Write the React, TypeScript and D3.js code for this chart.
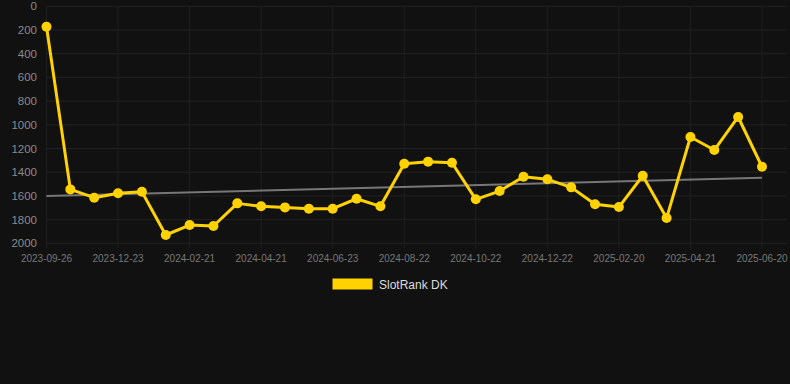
import React from "react";
import * as d3 from "d3";

const categories = [
  "2023-09-26", "2023-10-26", "2023-11-24", "2023-12-23", "2024-01-22", "2024-02-01",
  "2024-02-21", "2024-03-08", "2024-03-28", "2024-04-21", "2024-05-10", "2024-05-31",
  "2024-06-23", "2024-07-12", "2024-08-01", "2024-08-22", "2024-09-10", "2024-10-01",
  "2024-10-22", "2024-11-10", "2024-12-01", "2024-12-22", "2025-01-10", "2025-01-30",
  "2025-02-20", "2025-03-10", "2025-03-31", "2025-04-21", "2025-05-10", "2025-05-30",
  "2025-06-20",
];
const values = [
  172, 1545, 1615, 1578, 1565, 1930, 1846, 1854, 1663, 1688, 1697, 1708, 1708, 1624,
  1688, 1328, 1311, 1320, 1629, 1559, 1438, 1460, 1528, 1671, 1694, 1430, 1787, 1103,
  1213, 934, 1354,
];
const trendValues = [1601, 1447];
const yTicks = [0, 200, 400, 600, 800, 1000, 1200, 1400, 1600, 1800, 2000];
const seriesName = "SlotRank DK";

const W = 790;
const H = 384;
const YELLOW = "#ffd200";

export default function App() {
  const x = d3.scalePoint<string>().domain(categories).range([46.5, 762]);
  const y = d3.scaleLinear().domain([0, 2000]).range([6.3, 243.3]);
  const line = d3
    .line<number>()
    .x((_, i) => x(categories[i]) as number)
    .y((d) => y(d));
  const labeled = categories.filter((_, i) => i % 3 === 0);
  const x0 = x(categories[0]) as number;
  const x1 = x(categories[categories.length - 1]) as number;

  return (
    <svg
      width={W}
      height={H}
      style={{ position: "absolute", left: 0, top: 0, background: "#111111" }}
      fontFamily="Liberation Sans, Arial, sans-serif"
    >
      <rect x={0} y={0} width={W} height={H} fill="#111111" />
      {yTicks.map((t) => (
        <line key={"h" + t} x1={x0} x2={787} y1={y(t)} y2={y(t)} stroke="#222222" strokeWidth={1} />
      ))}
      {labeled.map((c) => (
        <line key={"v" + c} x1={x(c)} x2={x(c)} y1={y(0)} y2={y(2000) + 5} stroke="#1f1f1f" strokeWidth={1} />
      ))}
      {yTicks.map((t) => (
        <text key={"yl" + t} x={37} y={y(t)} dy="0.35em" textAnchor="end" fontSize={11.5} fill="#8a8a8a">
          {t}
        </text>
      ))}
      {labeled.map((c) => (
        <text key={"xl" + c} x={x(c)} y={262} textAnchor="middle" fontSize={10} fill="#777777">
          {c}
        </text>
      ))}
      <line x1={x0} x2={x1} y1={y(trendValues[0])} y2={y(trendValues[1])} stroke="#777777" strokeWidth={2} />
      <path d={line(values) || ""} fill="none" stroke={YELLOW} strokeWidth={3} strokeLinejoin="round" />
      {values.map((v, i) => (
        <circle key={"p" + i} cx={x(categories[i])} cy={y(v)} r={5} fill={YELLOW} />
      ))}
      <rect x={332.5} y={278.5} width={40} height={11} fill={YELLOW} />
      <text x={379} y={288.5} fontSize={12} fill="#dddddd">
        {seriesName}
      </text>
    </svg>
  );
}
